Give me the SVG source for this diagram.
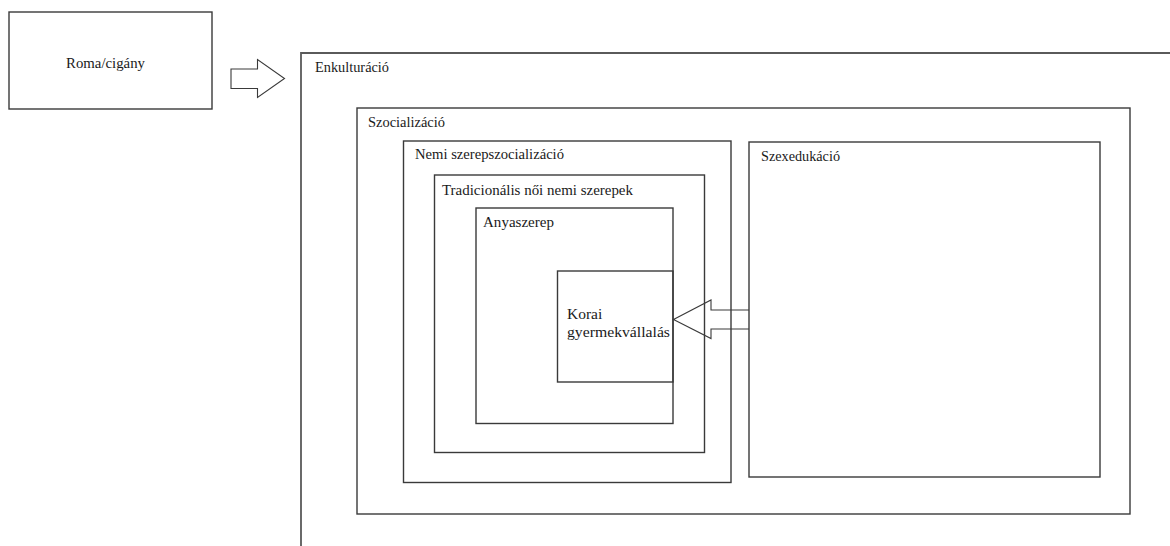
<svg xmlns="http://www.w3.org/2000/svg" width="1170" height="546" viewBox="0 0 1170 546">
<style>
.box{fill:none;stroke:#3a3a3a;stroke-width:1.4}
.arr{fill:none;stroke:#3a3a3a;stroke-width:1.1;stroke-linejoin:miter}
.t{font-family:'Liberation Serif','DejaVu Serif','Times New Roman',serif;font-size:14.5px;fill:#1a1a1a}
</style>
<rect width="1170" height="546" fill="#ffffff"/>
<g id="roma">
<rect class="box" x="9" y="12" width="203" height="97"/>
<text class="t" font-family="Liberation Serif, serif" x="66" y="68" textLength="79" lengthAdjust="spacingAndGlyphs">Roma/cigány</text>
</g>
<g id="enkulturacio">
<path d="M301,546 V53 H1170" fill="none" stroke="#5a5a5a" stroke-width="1.8"/>
<text class="t" font-family="Liberation Serif, serif" x="315" y="72" textLength="74" lengthAdjust="spacingAndGlyphs">Enkulturáció</text>
</g>
<g id="szocializacio">
<rect class="box" x="357" y="108" width="773" height="406"/>
<text class="t" font-family="Liberation Serif, serif" x="368" y="127" textLength="77" lengthAdjust="spacingAndGlyphs">Szocializáció</text>
</g>
<g id="nemi">
<rect class="box" x="403.5" y="141" width="327.5" height="341.5"/>
<text class="t" font-family="Liberation Serif, serif" x="415" y="159" textLength="149" lengthAdjust="spacingAndGlyphs">Nemi szerepszocializáció</text>
</g>
<g id="tradicionalis">
<rect class="box" x="434.5" y="175" width="270" height="277.5"/>
<text class="t" font-family="Liberation Serif, serif" x="442" y="195" textLength="191" lengthAdjust="spacingAndGlyphs">Tradicionális női nemi szerepek</text>
</g>
<g id="anyaszerep">
<rect class="box" x="476" y="208" width="197" height="215.5"/>
<text class="t" font-family="Liberation Serif, serif" x="483" y="226.5" textLength="71" lengthAdjust="spacingAndGlyphs">Anyaszerep</text>
</g>
<g id="korai">
<rect class="box" x="557.5" y="271" width="115.5" height="111"/>
<text class="t" font-family="Liberation Serif, serif" x="567" y="318.5" style="font-size:15.5px">Korai</text>
<text class="t" font-family="Liberation Serif, serif" x="567" y="337" textLength="103" lengthAdjust="spacingAndGlyphs" style="font-size:15.5px">gyermekvállalás</text>
</g>
<g id="szexedukacio">
<rect class="box" x="749" y="142" width="351" height="335"/>
<text class="t" font-family="Liberation Serif, serif" x="761" y="160.5" textLength="79" lengthAdjust="spacingAndGlyphs">Szexedukáció</text>
</g>
<g id="connectors">
<polygon class="arr" points="231,69 257.5,69 257.5,59.5 284.5,78.5 257.5,97.5 257.5,88.5 231,88.5"/>
<polyline class="arr" points="749,310 711,310 711,300 673.5,319.5 711,338.5 711,329 749,329"/>
</g>
</svg>
